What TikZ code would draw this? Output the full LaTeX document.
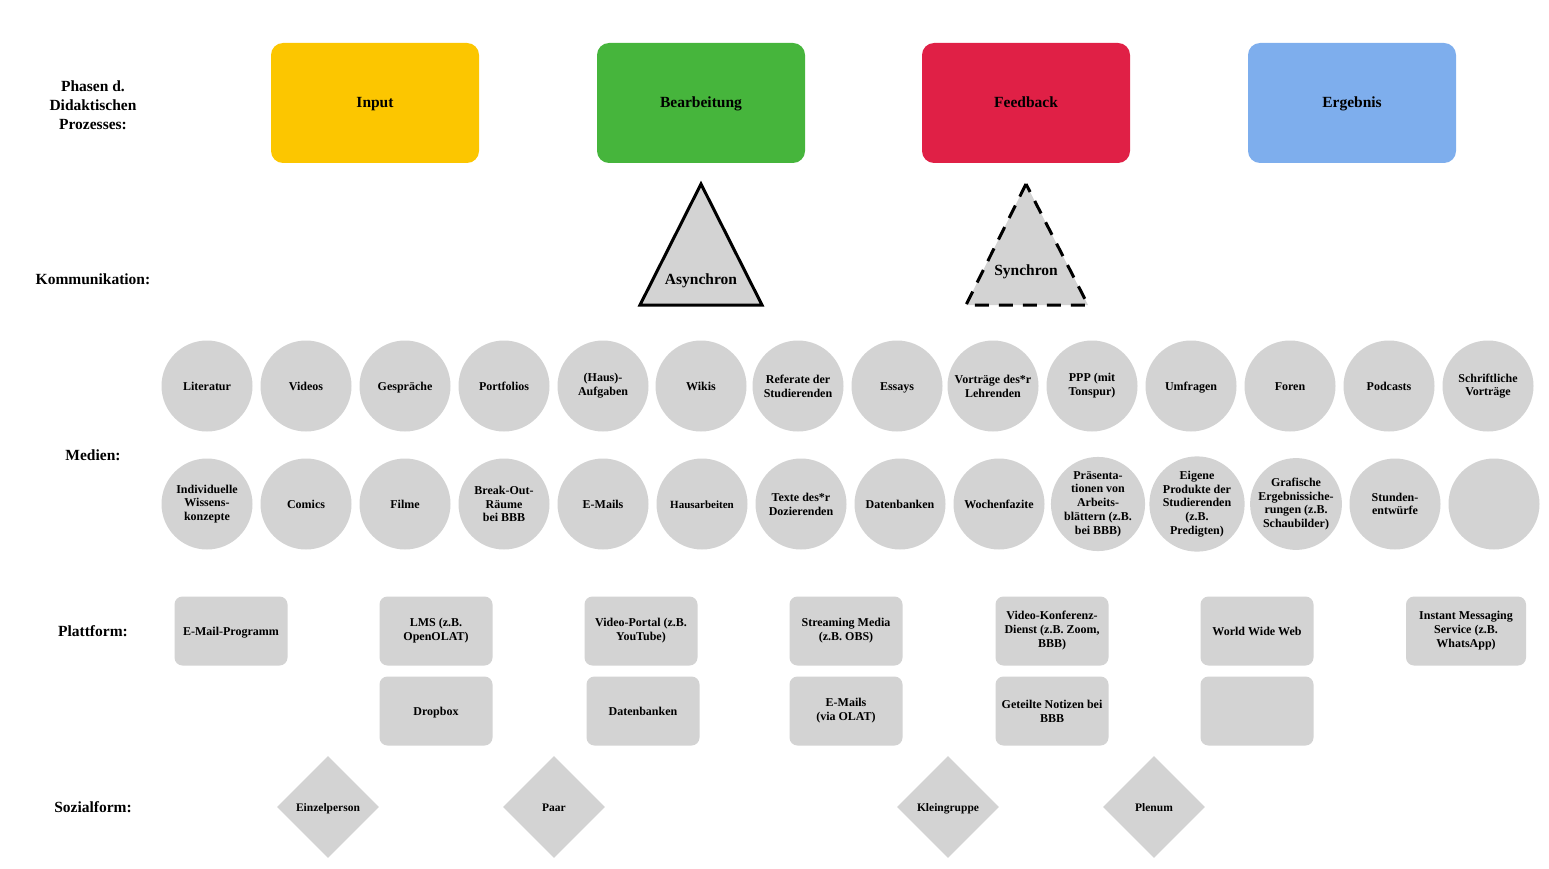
\documentclass[tikz,border=0pt]{standalone}
\usepackage{fontspec}
\setmainfont{Liberation Serif}
\usetikzlibrary{shapes.geometric}
\definecolor{inputc}{HTML}{FCC600}
\definecolor{bearbc}{HTML}{46B53C}
\definecolor{feedc}{HTML}{E02046}
\definecolor{ergc}{HTML}{7EAEED}
\definecolor{shapegray}{HTML}{D3D3D3}
\tikzset{
  one/.style={text height=0.95em, text depth=0pt},
  phase/.style={rectangle, rounded corners=12pt, minimum width=208pt, minimum height=120pt, inner sep=0pt, one, font=\fontsize{15.5}{18}\selectfont\bfseries},
  rowlabel/.style={align=center, font=\fontsize{15.5}{19}\selectfont\bfseries},
  medium/.style={circle, fill=shapegray, minimum size=91pt, inner sep=0pt, align=center, font=\fontsize{12}{13.8}\selectfont\bfseries},
  platform/.style={rectangle, rounded corners=8pt, fill=shapegray, minimum width=113pt, minimum height=69pt, inner sep=0pt, align=center, font=\fontsize{12}{14}\selectfont\bfseries},
  social/.style={diamond, fill=shapegray, minimum width=102pt, minimum height=102pt, inner sep=0pt, one, font=\fontsize{11.5}{13}\selectfont\bfseries},
  tri/.style={line width=3pt, fill=shapegray, line join=miter},
  trilabel/.style={one, font=\fontsize{15.5}{18}\selectfont\bfseries}
}
\begin{document}
\begin{tikzpicture}[x=1pt,y=-1pt]
\useasboundingbox (0,0) rectangle (1549,869);
% row labels
\node[rowlabel] (lphase) at (93,105) {Phasen d.\\Didaktischen\\Prozesses:};
\node[rowlabel, one] (lkomm) at (93,280) {Kommunikation:};
\node[rowlabel, one] (lmed) at (93,456) {Medien:};
\node[rowlabel, one] (lplat) at (93,632) {Plattform:};
\node[rowlabel, one] (lsoz) at (93,808) {Sozialform:};
% phases
\node[phase, fill=inputc] (input) at (375,103) {Input};
\node[phase, fill=bearbc] (bearb) at (701,103) {Bearbeitung};
\node[phase, fill=feedc] (feed) at (1026,103) {Feedback};
\node[phase, fill=ergc] (erg) at (1352,103) {Ergebnis};
% triangles
\coordinate (a1) at (701,184);
\coordinate (a2) at (640,305);
\coordinate (a3) at (762,305);
\draw[tri] (a1) -- (a2) -- (a3) -- cycle;
\node[trilabel] (asyn) at (701,280) {Asynchron};
\coordinate (s1) at (1026,184);
\coordinate (s2) at (966,305);
\coordinate (s3) at (1088,305);
\fill[shapegray] (s1) -- (s2) -- (s3) -- cycle;
\draw[line width=3pt, dash pattern=on 14pt off 10pt] (s1) -- (s2) -- (s3) -- cycle;
\node[trilabel] (syn) at (1026,271) {Synchron};
% media row 1
\node[medium, one] (m1) at (207,386) {Literatur};
\node[medium, one] (m2) at (306,386) {Videos};
\node[medium, one] (m3) at (405,386) {Gespräche};
\node[medium, one] (m4) at (504,386) {Portfolios};
\node[medium] (m5) at (603,386) {(Haus)-\\Aufgaben};
\node[medium, one] (m6) at (701,386) {Wikis};
\node[medium] (m7) at (798,386) {Referate der\\Studierenden};
\node[medium, one] (m8) at (897,386) {Essays};
\node[medium] (m9) at (993,386) {Vorträge des*r\\Lehrenden};
\node[medium] (m10) at (1092,386) {PPP (mit\\Tonspur)};
\node[medium, one] (m11) at (1191,386) {Umfragen};
\node[medium, one] (m12) at (1290,386) {Foren};
\node[medium, one] (m13) at (1389,386) {Podcasts};
\node[medium] (m14) at (1488,386) {Schriftliche\\Vorträge};
% media row 2
\node[medium] (n1) at (207,504) {Individuelle\\Wissens-\\konzepte};
\node[medium, one] (n2) at (306,504) {Comics};
\node[medium, one] (n3) at (405,504) {Filme};
\node[medium] (n4) at (504,504) {Break-Out-\\Räume\\bei BBB};
\node[medium, one] (n5) at (603,504) {E-Mails};
\node[medium, one, font=\fontsize{11}{13}\selectfont\bfseries] (n6) at (702,504) {Hausarbeiten};
\node[medium] (n7) at (801,504) {Texte des*r\\Dozierenden};
\node[medium, one] (n8) at (900,504) {Datenbanken};
\node[medium, one] (n9) at (999,504) {Wochenfazite};
\node[medium] (n10) at (1098,504) {Präsenta-\\tionen von\\Arbeits-\\blättern (z.B.\\bei BBB)};
\node[medium] (n11) at (1197,504) {Eigene\\Produkte der\\Studierenden\\(z.B.\\Predigten)};
\node[medium] (n12) at (1296,504) {Grafische\\Ergebnissiche-\\rungen (z.B.\\Schaubilder)};
\node[medium] (n13) at (1395,504) {Stunden-\\entwürfe};
\node[medium] (n14) at (1494,504) {};
% platforms
\node[platform, one] (p1) at (231,631) {E-Mail-Programm};
\node[platform] (p2) at (436,631) {LMS (z.B.\\OpenOLAT)};
\node[platform] (p3) at (641,631) {Video-Portal (z.B.\\YouTube)};
\node[platform] (p4) at (846,631) {Streaming Media\\(z.B. OBS)};
\node[platform] (p5) at (1052,631) {Video-Konferenz-\\Dienst (z.B. Zoom,\\BBB)};
\node[platform, one] (p6) at (1257,631) {World Wide Web};
\node[platform, minimum width=120pt] (p7) at (1466,631) {Instant Messaging\\Service (z.B.\\WhatsApp)};
\node[platform, one] (q2) at (436,711) {Dropbox};
\node[platform, one] (q3) at (643,711) {Datenbanken};
\node[platform] (q4) at (846,711) {E-Mails\\(via OLAT)};
\node[platform] (q5) at (1052,711) {Geteilte Notizen bei\\BBB};
\node[platform] (q6) at (1257,711) {};
% social forms
\node[social] (d1) at (328,807) {Einzelperson};
\node[social] (d2) at (554,807) {Paar};
\node[social] (d3) at (948,807) {Kleingruppe};
\node[social] (d4) at (1154,807) {Plenum};
\end{tikzpicture}
\end{document}
